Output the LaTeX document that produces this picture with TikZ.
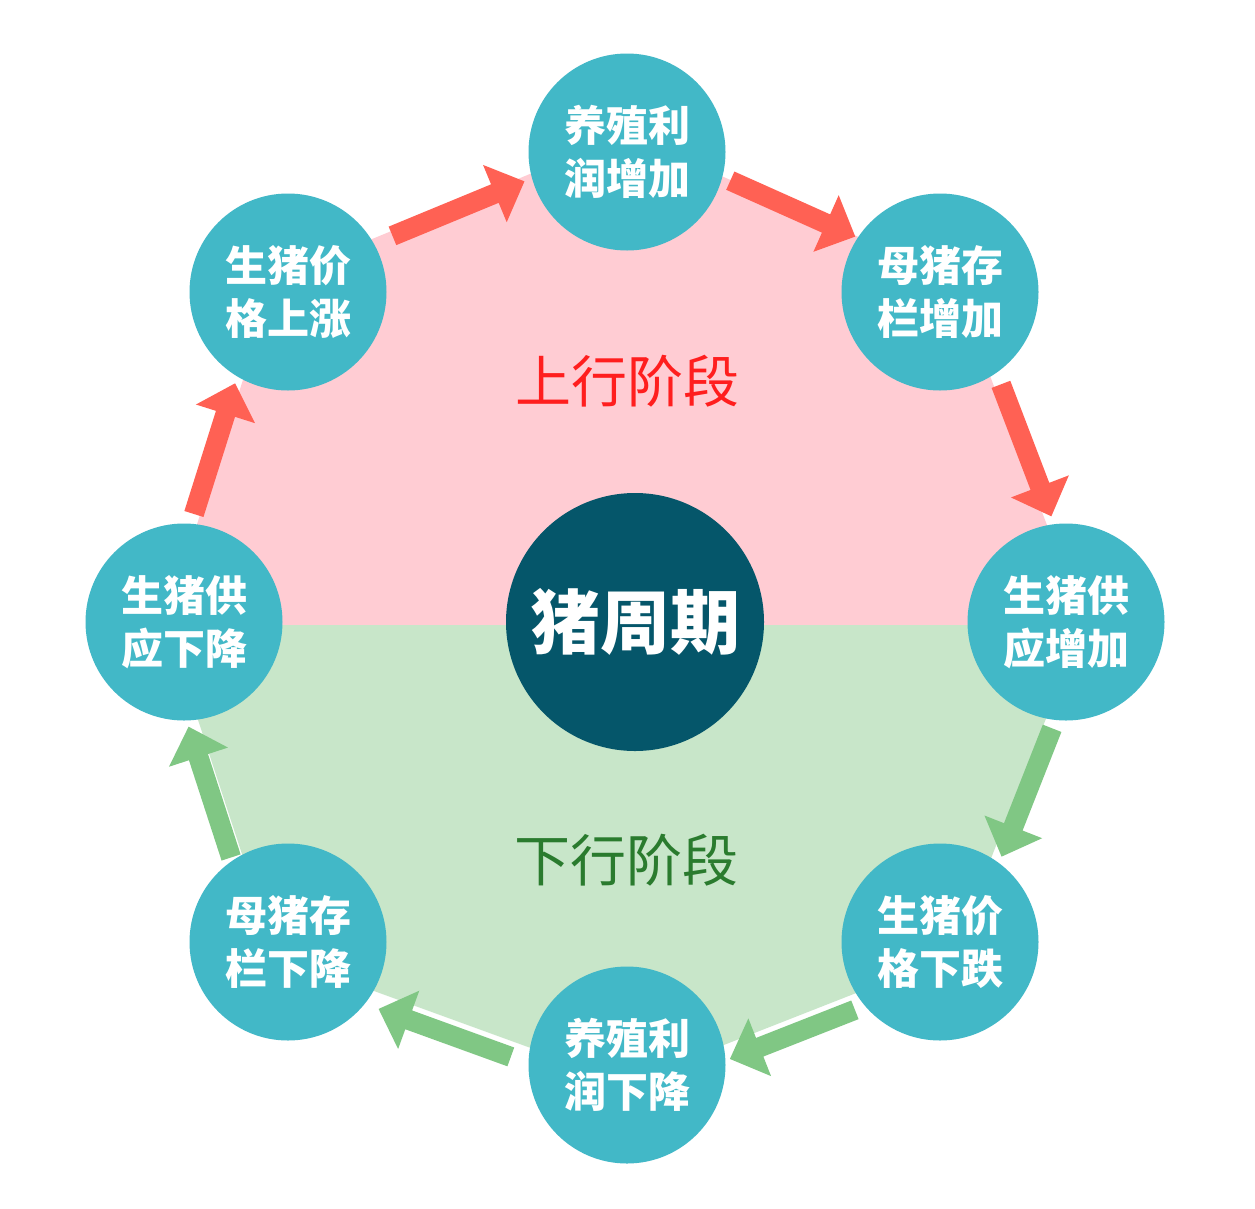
\documentclass[tikz,border=0pt]{standalone}
\usepackage{fontspec}
\newfontfamily\cjk{Noto Sans CJK SC}
\usetikzlibrary{calc}

\definecolor{stagecol}{HTML}{42B8C7}
\definecolor{hubcol}{HTML}{05566A}
\definecolor{upbg}{HTML}{FFCCD3}
\definecolor{downbg}{HTML}{C8E6C9}
\definecolor{uparr}{HTML}{FF6154}
\definecolor{downarr}{HTML}{80C784}
\definecolor{uptext}{HTML}{FF1E1E}
\definecolor{downtext}{HTML}{2A7B2E}

% Broad flat arrow between two stages, pushed outwards from the ring.
% #1 colour, #2 from, #3 to, #4 gap at start, #5 gap at end, #6 outward shift
\newcommand{\cyclearrow}[6]{%
  \coordinate (p) at ($(#2)!#4!(#3)!#6!90:(#3)$);
  \coordinate (q) at ($(#3)!#5!(#2)!#6!-90:(#2)$);
  \coordinate (qb) at ($(q)!32pt!(p)$);
  \fill[#1] ($(p)!10pt!90:(q)$) -- ($(qb)!10pt!90:(q)$) -- ($(qb)!31pt!90:(q)$)
    -- (q) -- ($(qb)!31pt!-90:(q)$) -- ($(qb)!10pt!-90:(q)$)
    -- ($(p)!10pt!-90:(q)$) -- cycle;
}

\begin{document}
\begin{tikzpicture}[x=1pt,y=-1pt,
  stage/.style={circle, fill=stagecol, minimum size=197pt, inner sep=0pt,
    text=white, align=center, font=\cjk\bfseries\fontsize{42}{53}\selectfont},
  hub/.style={circle, fill=hubcol, minimum size=258pt, inner sep=0pt,
    text=white, font=\cjk\bfseries\fontsize{70}{80}\selectfont},
  phase/.style={font=\cjk\fontsize{56}{60}\selectfont}]

\useasboundingbox (0,0) rectangle (1255,1208);
\fill[white] (0,0) rectangle (1255,1208);

% two-coloured background ring
\def\ringpath{(627,134) -- (953,279) -- (1084,622) -- (953,955) -- (627,1083)
    -- (275,955) -- (166,622) -- (275,279) -- cycle}
\begin{scope}
  \clip (0,0) rectangle (1255,625);
  \fill[upbg] \ringpath;
\end{scope}
\begin{scope}
  \clip (0,625) rectangle (1255,1208);
  \fill[downbg] \ringpath;
\end{scope}

% stages
\node[stage] (s1) at (627,152)  {养殖利\\润增加};
\node[stage] (s2) at (940,292)  {母猪存\\栏增加};
\node[stage] (s3) at (1066,622) {生猪供\\应增加};
\node[stage] (s4) at (940,942)  {生猪价\\格下跌};
\node[stage] (s5) at (627,1065) {养殖利\\润下降};
\node[stage] (s6) at (288,942)  {母猪存\\栏下降};
\node[stage] (s7) at (184,622)  {生猪供\\应下降};
\node[stage] (s8) at (288,292)  {生猪价\\格上涨};

\node[hub] (hub) at (635,622) {猪周期};

\node[phase, text=uptext] (up) at (627,381) {上行阶段};
\node[phase, text=downtext] (down) at (626,860) {下行阶段};

% arrows of the cycle
\cyclearrow{uparr}{s1}{s2}{106pt}{100pt}{16pt}
\cyclearrow{uparr}{s2}{s3}{108pt}{104pt}{24pt}
\cyclearrow{downarr}{s3}{s4}{104pt}{102pt}{26pt}
\cyclearrow{downarr}{s4}{s5}{104pt}{98pt}{32pt}
\cyclearrow{downarr}{s5}{s6}{112pt}{108pt}{32pt}
\cyclearrow{downarr}{s6}{s7}{98pt}{101pt}{28pt}
\cyclearrow{uparr}{s7}{s8}{106pt}{103pt}{23pt}
\cyclearrow{uparr}{s8}{s1}{118pt}{106pt}{12pt}

\end{tikzpicture}
\end{document}
